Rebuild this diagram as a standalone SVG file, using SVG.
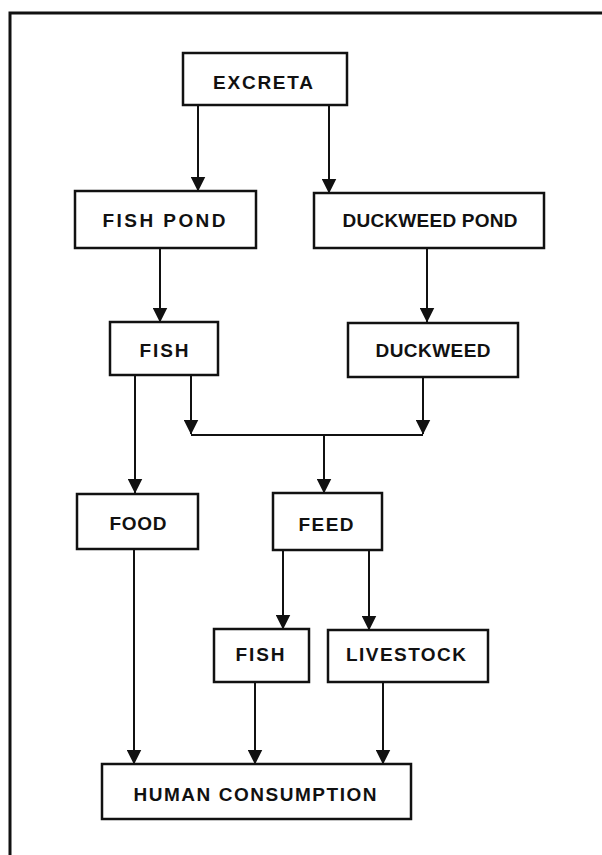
<svg xmlns="http://www.w3.org/2000/svg" width="602" height="855" viewBox="0 0 602 855">
<defs>
<style>
.node rect{fill:#fff;stroke:#111;stroke-width:2.5}
.node text{font-family:"Liberation Sans",Arial,sans-serif;font-weight:bold;font-size:19px;fill:#111;text-anchor:middle}
.conn path{fill:none;stroke:#111;stroke-width:2}
.frame{fill:none;stroke:#111;stroke-width:3}
</style>
<marker id="arr" markerUnits="userSpaceOnUse" markerWidth="15" markerHeight="15" viewBox="0 0 14 14" refX="13.5" refY="7" orient="auto">
<path d="M0,0 L14,7 L0,14 Z" fill="#111"/>
</marker>
</defs>
<rect width="602" height="855" fill="#fff"/>
<path class="frame" d="M10,870 L10,13 L620,13"/>
<g class="conn">
<path d="M198,105 L198,191" marker-end="url(#arr)"/>
<path d="M329,105 L329,193" marker-end="url(#arr)"/>
<path d="M160,248 L160,322" marker-end="url(#arr)"/>
<path d="M427,248 L427,322" marker-end="url(#arr)"/>
<path d="M135,375 L135,493" marker-end="url(#arr)"/>
<path d="M191,375 L191,434" marker-end="url(#arr)"/>
<path d="M423,376 L423,434" marker-end="url(#arr)"/>
<path d="M191,435 L423,435"/>
<path d="M324,435 L324,493" marker-end="url(#arr)"/>
<path d="M283,550 L283,629" marker-end="url(#arr)"/>
<path d="M369,550 L369,630" marker-end="url(#arr)"/>
<path d="M134,549 L134,764" marker-end="url(#arr)"/>
<path d="M255,682 L255,764" marker-end="url(#arr)"/>
<path d="M383,682 L383,764" marker-end="url(#arr)"/>
</g>
<g id="excreta" class="node"><rect x="183" y="53" width="164" height="52"/><text x="263" y="88.5" textLength="100" lengthAdjust="spacing">EXCRETA</text></g>
<g id="fishpond" class="node"><rect x="75" y="191" width="181" height="57"/><text x="164" y="227" textLength="123" lengthAdjust="spacing">FISH POND</text></g>
<g id="duckweedpond" class="node"><rect x="314" y="193" width="230" height="55"/><text x="430" y="227" textLength="175" lengthAdjust="spacing">DUCKWEED POND</text></g>
<g id="fish1" class="node"><rect x="110" y="322" width="108" height="53"/><text x="164" y="356.5" textLength="49" lengthAdjust="spacing">FISH</text></g>
<g id="duckweed" class="node"><rect x="348" y="323" width="170" height="54"/><text x="433" y="356.5" textLength="115" lengthAdjust="spacing">DUCKWEED</text></g>
<g id="food" class="node"><rect x="77" y="494" width="121" height="55"/><text x="138" y="529.5" textLength="57" lengthAdjust="spacing">FOOD</text></g>
<g id="feed" class="node"><rect x="273" y="493" width="109" height="57"/><text x="326" y="530.5" textLength="55" lengthAdjust="spacing">FEED</text></g>
<g id="fish2" class="node"><rect x="214" y="629" width="95" height="53"/><text x="260" y="661" textLength="49" lengthAdjust="spacing">FISH</text></g>
<g id="livestock" class="node"><rect x="328" y="630" width="160" height="52"/><text x="406" y="661" textLength="120" lengthAdjust="spacing">LIVESTOCK</text></g>
<g id="human" class="node"><rect x="102" y="764" width="309" height="55"/><text x="255" y="801" textLength="243" lengthAdjust="spacing">HUMAN CONSUMPTION</text></g>
</svg>
